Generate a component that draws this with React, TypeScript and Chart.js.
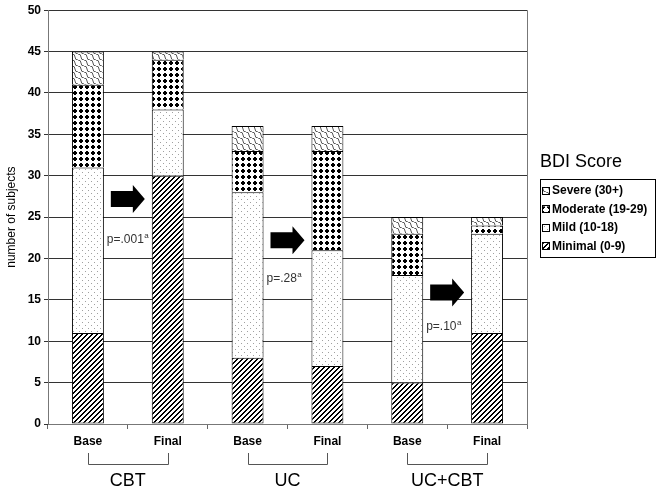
import React, { useEffect, useRef } from 'react';
import { Chart, registerables } from 'chart.js';
Chart.register(...registerables);

const categories = ['Base', 'Final', 'Base', 'Final', 'Base', 'Final'];
const groups = ['CBT', 'UC', 'UC+CBT'];
const minimal = [11, 30, 8, 7, 5, 11];
const mild = [20, 8, 20, 14, 13, 12];
const moderate = [10, 6, 5, 12, 5, 1];
const severe = [4, 1, 3, 3, 2, 1];
const seriesNames = ['Minimal (0-9)', 'Mild (10-18)', 'Moderate (19-29)', 'Severe (30+)'];
const legendTitle = 'BDI Score';
const yTitle = 'number of subjects';
const pLabels = ['p=.001', 'p=.28', 'p=.10'];
const arrowLevels = [27.2, 22.2, 15.9];
const pLevels = [22.3, 17.6, 11.8];

const FONT = "Arial, 'Liberation Sans', sans-serif";

function makePattern(kind: string): CanvasPattern | string {
  const c = document.createElement('canvas');
  let s = 6;
  if (kind === 'hatch') s = 5;
  c.width = s;
  c.height = s;
  const g = c.getContext('2d')!;
  g.fillStyle = '#fff';
  g.fillRect(0, 0, s, s);
  if (kind === 'hatch') {
    g.fillStyle = '#000';
    for (let y = 0; y < s; y++) {
      for (let x = 0; x < s; x++) {
        const m = (x + y) % s;
        if (m === 0 || m === 1) g.fillRect(x, y, 1, 1);
      }
    }
  } else if (kind === 'dots') {
    g.fillStyle = '#a0a0a0';
    g.fillRect(1, 1, 1, 1);
    g.fillRect(4, 4, 1, 1);
  } else if (kind === 'dense') {
    g.fillStyle = '#000';
    g.fillRect(2, 1, 2, 1);
    g.fillRect(1, 2, 4, 2);
    g.fillRect(2, 4, 2, 1);
  } else if (kind === 'wave') {
    g.strokeStyle = '#444';
    g.lineWidth = 0.9;
    g.beginPath();
    for (const off of [-6, 0, 6]) {
      g.moveTo(0 + off, 0);
      g.quadraticCurveTo(3 + off, 0, 3 + off, 3);
      g.quadraticCurveTo(3 + off, 6, 6 + off, 6);
    }
    g.stroke();
  }
  const p = g.createPattern(c, 'repeat');
  return p || '#fff';
}

const overlay = {
  id: 'overlay',
  afterDraw(chart: any) {
    const ctx = chart.ctx as CanvasRenderingContext2D;
    const xs = chart.scales.x;
    const ys = chart.scales.y;
    const ca = chart.chartArea;
    ctx.save();
    ctx.strokeStyle = '#777';
    ctx.lineWidth = 1;
    ctx.beginPath();
    ctx.moveTo(Math.round(ca.right) + 0.5, ca.top);
    ctx.lineTo(Math.round(ca.right) + 0.5, ca.bottom);
    ctx.stroke();

    ctx.save();
    ctx.translate(12, (ca.top + ca.bottom) / 2);
    ctx.rotate(-Math.PI / 2);
    ctx.fillStyle = '#000';
    ctx.font = `12px ${FONT}`;
    ctx.textAlign = 'center';
    ctx.textBaseline = 'middle';
    ctx.fillText(yTitle, 0, 0);
    ctx.restore();

    groups.forEach((grp, g) => {
      const x1 = xs.getPixelForValue(2 * g);
      const x2 = xs.getPixelForValue(2 * g + 1);
      const cx = (x1 + x2) / 2;
      const ay = ys.getPixelForValue(arrowLevels[g]);
      ctx.fillStyle = '#000';
      ctx.beginPath();
      ctx.moveTo(cx - 17, ay - 8);
      ctx.lineTo(cx + 5, ay - 8);
      ctx.lineTo(cx + 5, ay - 14);
      ctx.lineTo(cx + 17, ay);
      ctx.lineTo(cx + 5, ay + 14);
      ctx.lineTo(cx + 5, ay + 8);
      ctx.lineTo(cx - 17, ay + 8);
      ctx.closePath();
      ctx.fill();
      const py = ys.getPixelForValue(pLevels[g]);
      ctx.fillStyle = '#333';
      ctx.font = `12px ${FONT}`;
      ctx.textAlign = 'left';
      ctx.textBaseline = 'middle';
      ctx.fillText(pLabels[g], cx - 21, py);
      const w = ctx.measureText(pLabels[g]).width;
      ctx.font = `8px ${FONT}`;
      ctx.fillText('a', cx - 21 + w + 0.5, py - 4);
      ctx.strokeStyle = '#555';
      ctx.lineWidth = 1;
      const yt = ca.bottom + 29;
      const yb = ca.bottom + 40;
      ctx.beginPath();
      ctx.moveTo(Math.round(x1) + 0.5, yt);
      ctx.lineTo(Math.round(x1) + 0.5, yb + 0.5);
      ctx.lineTo(Math.round(x2) + 0.5, yb + 0.5);
      ctx.lineTo(Math.round(x2) + 0.5, yt);
      ctx.stroke();
      ctx.fillStyle = '#000';
      ctx.font = `18px ${FONT}`;
      ctx.textAlign = 'center';
      ctx.textBaseline = 'middle';
      ctx.fillText(grp, cx, ca.bottom + 57);
    });

    const lx = 540;
    ctx.fillStyle = '#000';
    ctx.font = `18px ${FONT}`;
    ctx.textAlign = 'left';
    ctx.textBaseline = 'alphabetic';
    ctx.fillText(legendTitle, lx, 167);
    ctx.strokeStyle = '#000';
    ctx.strokeRect(lx + 0.5, 179.5, 115, 78);
    const ds = chart.data.datasets;
    ctx.font = `bold 12px ${FONT}`;
    ctx.textBaseline = 'middle';
    for (let i = 0; i < 4; i++) {
      const d = ds[3 - i];
      const iy = 191 + i * 18.4;
      ctx.fillStyle = d.backgroundColor;
      ctx.fillRect(lx + 3, iy - 3, 6, 6);
      ctx.strokeStyle = '#000';
      ctx.strokeRect(lx + 2.5, Math.round(iy - 3) - 0.5, 7, 7);
      ctx.fillStyle = '#000';
      ctx.fillText(d.label, lx + 12, iy);
    }
    ctx.restore();
  },
};

export default function App() {
  const ref = useRef<HTMLCanvasElement>(null);
  useEffect(() => {
    const patterns = [makePattern('hatch'), makePattern('dots'), makePattern('dense'), makePattern('wave')];
    const values = [minimal, mild, moderate, severe];
    const chart = new Chart(ref.current!, {
      type: 'bar',
      data: {
        labels: categories,
        datasets: values.map((v, i) => ({
          label: seriesNames[i],
          data: v,
          backgroundColor: patterns[i] as any,
          borderColor: '#000',
          borderWidth: 1,
          borderSkipped: i === 0 ? false : 'start',
          categoryPercentage: 1,
          barPercentage: 0.4,
        })),
      },
      options: {
        responsive: false,
        animation: false,
        layout: { padding: { left: 0, right: 132, top: 10, bottom: 0 } },
        plugins: { legend: { display: false }, tooltip: { enabled: false } },
        scales: {
          x: {
            stacked: true,
            offset: true,
            grid: { drawOnChartArea: false, offset: true, tickLength: 5, color: '#666' },
            border: { color: '#777' },
            ticks: { font: { family: FONT, size: 12, weight: 'bold' }, color: '#000', padding: 5 },
            afterFit: (s: any) => { s.height = 67; },
          },
          y: {
            stacked: true,
            min: 0,
            max: 50,
            ticks: { stepSize: 5, font: { family: FONT, size: 12, weight: 'bold' }, color: '#000', padding: 3 },
            grid: { color: '#333', tickLength: 4 },
            border: { color: '#777' },
            afterFit: (s: any) => { s.width = 48; },
          },
        },
      },
      plugins: [overlay],
    });
    return () => chart.destroy();
  }, []);
  return (
    <div style={{ position: 'fixed', left: 0, top: 0, width: 659, height: 491, background: '#fff' }}>
      <canvas ref={ref} width={659} height={491} />
    </div>
  );
}
